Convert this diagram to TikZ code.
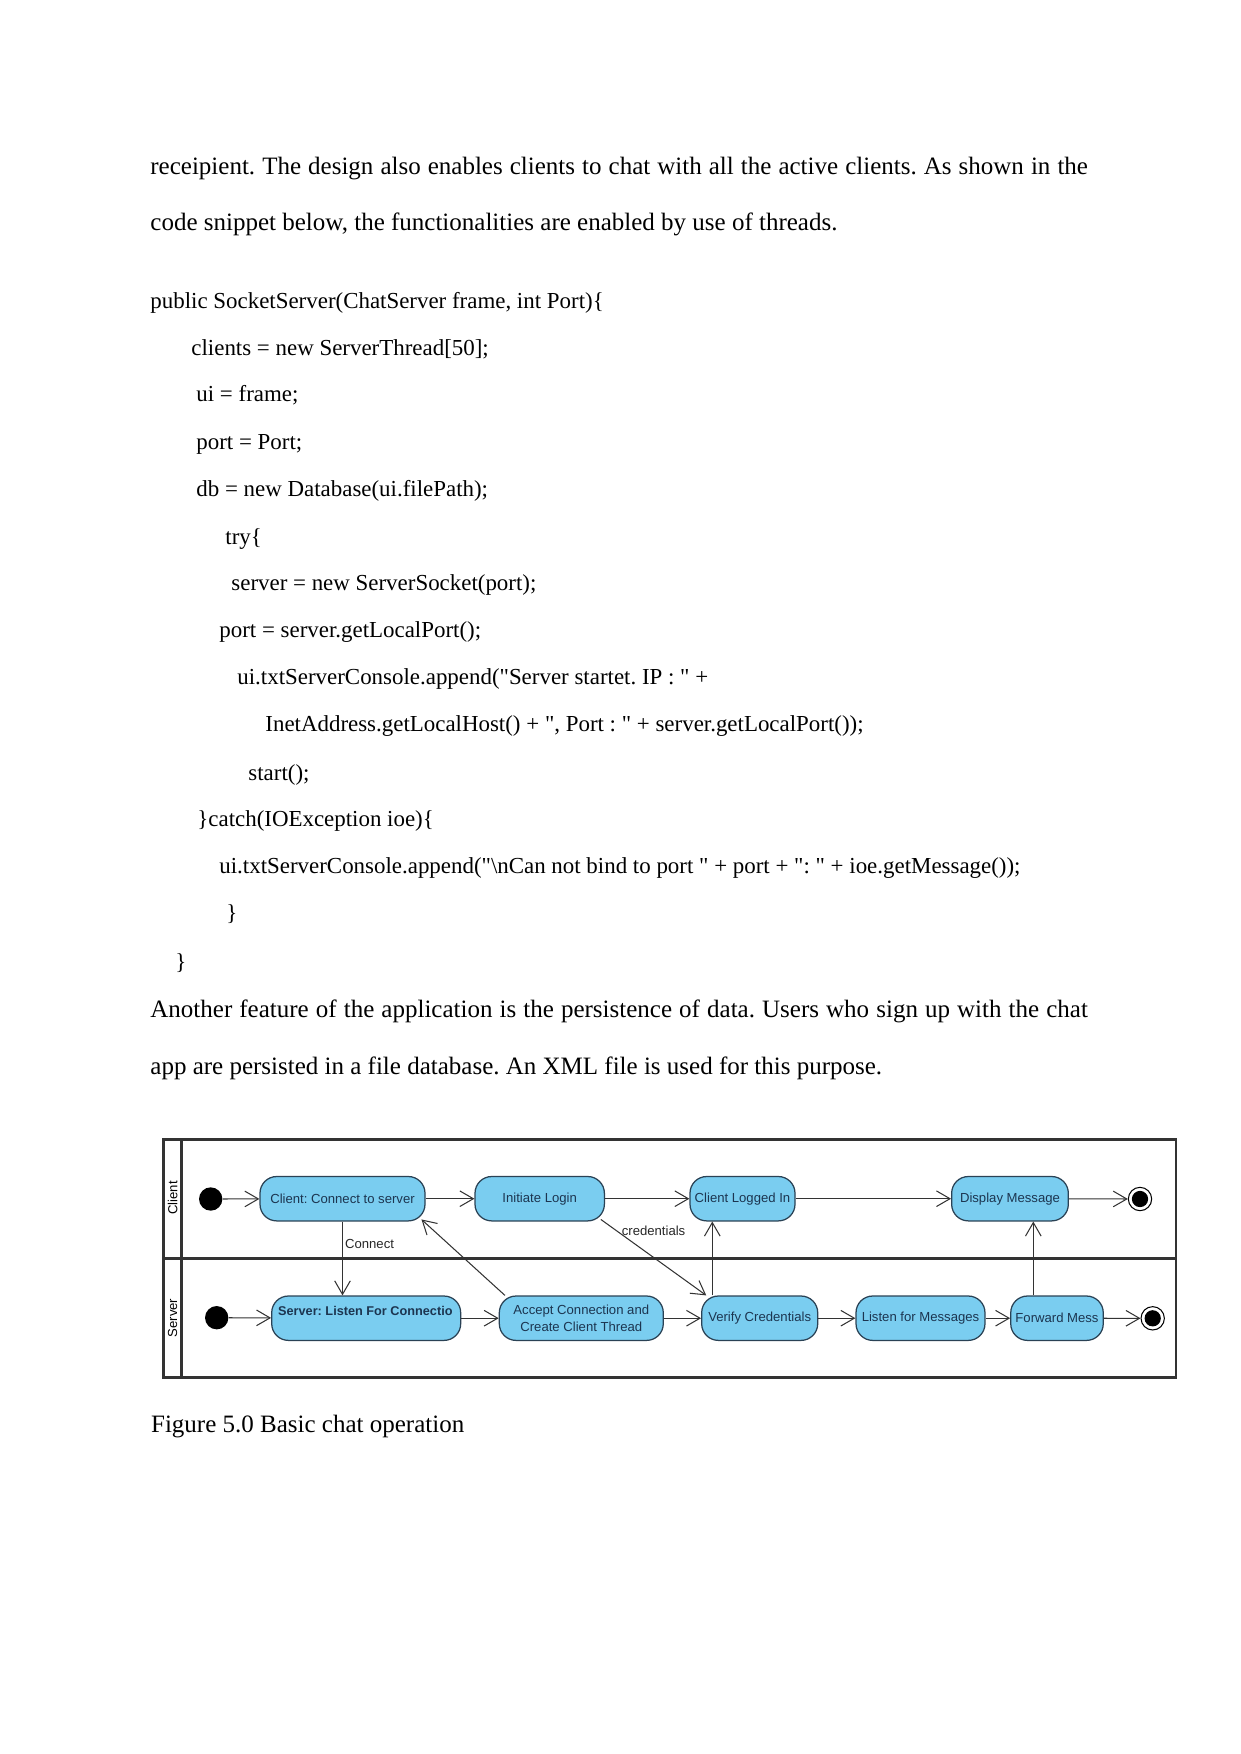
\documentclass[tikz,border=0pt]{standalone}
\usepackage{fontspec}
\setmainfont{Liberation Serif}[Ligatures=TeXOff]
\newfontfamily\umlfont{Liberation Sans}
\usetikzlibrary{arrows.meta}
\definecolor{actfill}{HTML}{7ACDF0}
\definecolor{actline}{HTML}{2A4255}
\definecolor{acttext}{HTML}{1C3550}
\definecolor{laneline}{HTML}{333333}
\frenchspacing

\begin{document}
\begin{tikzpicture}[x=0.48pt, y=-0.48pt,
    txt/.style={anchor=base west, inner sep=0pt, font=\fontsize{12}{14}\selectfont},
    code/.style={txt, font=\fontsize{11}{13}\selectfont},
    act/.style={draw=actline, fill=actfill, rounded corners=8pt, line width=0.6pt,
        minimum height=21.3pt, inner sep=1pt, text=acttext,
        font=\umlfont\fontsize{6.3}{8.3}\selectfont},
    initnode/.style={circle, fill=black, minimum size=11.2pt, inner sep=0pt},
    finalnode/.style={circle, draw=black, fill=white, line width=0.5pt,
        minimum size=11.2pt, inner sep=0pt,
        path picture={\fill[black] (path picture bounding box.center) circle (3.9pt);}},
    flow/.style={draw=laneline, line width=0.5pt, -{Straight Barb[length=6.5pt, width=7.5pt]}},
    lbl/.style={font=\umlfont\fontsize{6.3}{7.5}\selectfont, text=black!85, inner sep=1pt},
    lane/.style={draw=laneline, line width=1.2pt}]
    \useasboundingbox (0,0) rectangle (1241,1754);

    % text above the figure
    \node[txt] (p1) at (150,174) {\makebox[450pt][s]{receipient. The design also enables clients to chat with all the active clients. As shown in the}};
    \node[txt] (p2) at (150,230) {code snippet below, the functionalities are enabled by use of threads.};

    % code snippet
    \node[code] (c1) at (150,308) {public SocketServer(ChatServer frame, int Port)\{};
    \node[code] (c2) at (191,355) {clients = new ServerThread[50];};
    \node[code] (c3) at (196,401) {ui = frame;};
    \node[code] (c4) at (196,449) {port = Port;};
    \node[code] (c5) at (196,496) {db = new Database(ui.filePath);};
    \node[code] (c6) at (225,544) {try\{};
    \node[code] (c7) at (231,590) {server = new ServerSocket(port);};
    \node[code] (c8) at (219,637) {port = server.getLocalPort();};
    \node[code] (c9) at (237,684) {ui.txtServerConsole.append("Server startet. IP : " +};
    \node[code] (c10) at (265,731) {InetAddress.getLocalHost() + ", Port : " + server.getLocalPort());};
    \node[code] (c11) at (248,780) {start();};
    \node[code] (c12) at (197,826) {\}catch(IOException ioe)\{};
    \node[code] (c13) at (219,873) {ui.txtServerConsole.append("\textbackslash nCan not bind to port " + port + ": " + ioe.getMessage());};
    \node[code] (c14) at (226,920) {\}};
    \node[code] (c15) at (175,969) {\}};

    \node[txt] (p3) at (150,1017) {\makebox[450pt][s]{Another feature of the application is the persistence of data. Users who sign up with the chat}};
    \node[txt] (p4) at (150,1074) {app are persisted in a file database. An XML file is used for this purpose.};

    % swimlanes
    \draw[lane] (163.3,1139.3) rectangle (1176,1377.3);
    \draw[lane] (181.7,1139.3) -- (181.7,1377.3);
    \draw[lane] (163.3,1258.3) -- (1176,1258.3);
    \node[lbl, rotate=90, text=black] (clientlane) at (172.7,1198) {Client};
    \node[lbl, rotate=90, text=black] (serverlane) at (172.7,1318) {Server};

    % client lane
    \node[initnode] (init1) at (210.7,1199) {};
    \node[act, minimum width=79.2pt] (connect) at (342.5,1198.7) {Client: Connect to server};
    \node[act, minimum width=62.1pt] (login) at (539.7,1198.7) {Initiate Login};
    \node[act, minimum width=50.4pt] (loggedin) at (742.5,1198.7) {Client Logged In};
    \node[act, minimum width=56pt] (display) at (1010,1198.7) {Display Message};
    \node[finalnode] (final1) at (1140,1199) {};

    % server lane
    \node[initnode] (init2) at (216.7,1317.7) {};
    \node[act, minimum width=90.7pt, text depth=7.5pt,
        font=\umlfont\bfseries\fontsize{6.1}{8.3}\selectfont] (listen) at (366.2,1318.2) {\makebox[84.5pt][l]{Server: Listen For Connectio}};
    \node[act, minimum width=78.7pt, align=center] (accept) at (581.3,1318.2) {Accept Connection and\\Create Client Thread};
    \node[act, minimum width=55.7pt] (verify) at (759.7,1318.2) {Verify Credentials};
    \node[act, minimum width=61.9pt] (listenmsg) at (920.5,1318.2) {Listen for Messages};
    \node[act, minimum width=44.4pt] (forward) at (1057,1318.2) {Forward Mess};
    \node[finalnode] (final2) at (1152.7,1318.3) {};

    \coordinate (vx) at (712.3,0);
    \coordinate (fx) at (1033.3,0);

    % transitions
    \draw[flow] (init1) -- (connect);
    \draw[flow] (connect) -- (login);
    \draw[flow] (login) -- (loggedin);
    \draw[flow] (loggedin) -- (display);
    \draw[flow] (display) -- (final1);
    \draw[flow] (init2) -- (listen);
    \draw[flow] (listen) -- (accept);
    \draw[flow] (accept) -- (verify);
    \draw[flow] (verify) -- (listenmsg);
    \draw[flow] (listenmsg) -- (forward);
    \draw[flow] (forward) -- (final2);
    \draw[flow] (connect.south) -- node[lbl, anchor=west, pos=0.31] {Connect} (connect.south |- listen.north);
    \draw[flow] ([xshift=3pt]accept.north west) -- ([xshift=-2pt, yshift=1pt]connect.south east);
    \draw[flow] ([xshift=-2pt, yshift=1pt]login.south east) -- node[lbl, pos=0.5, yshift=13pt] {credentials} ([xshift=2.5pt]verify.north west);
    \draw[flow] (verify.north -| vx) -- (loggedin.south -| vx);
    \draw[flow] (forward.north -| fx) -- (display.south -| fx);

    % caption
    \node[txt] (caption) at (150.7,1432) {Figure 5.0 Basic chat operation};
\end{tikzpicture}
\end{document}
